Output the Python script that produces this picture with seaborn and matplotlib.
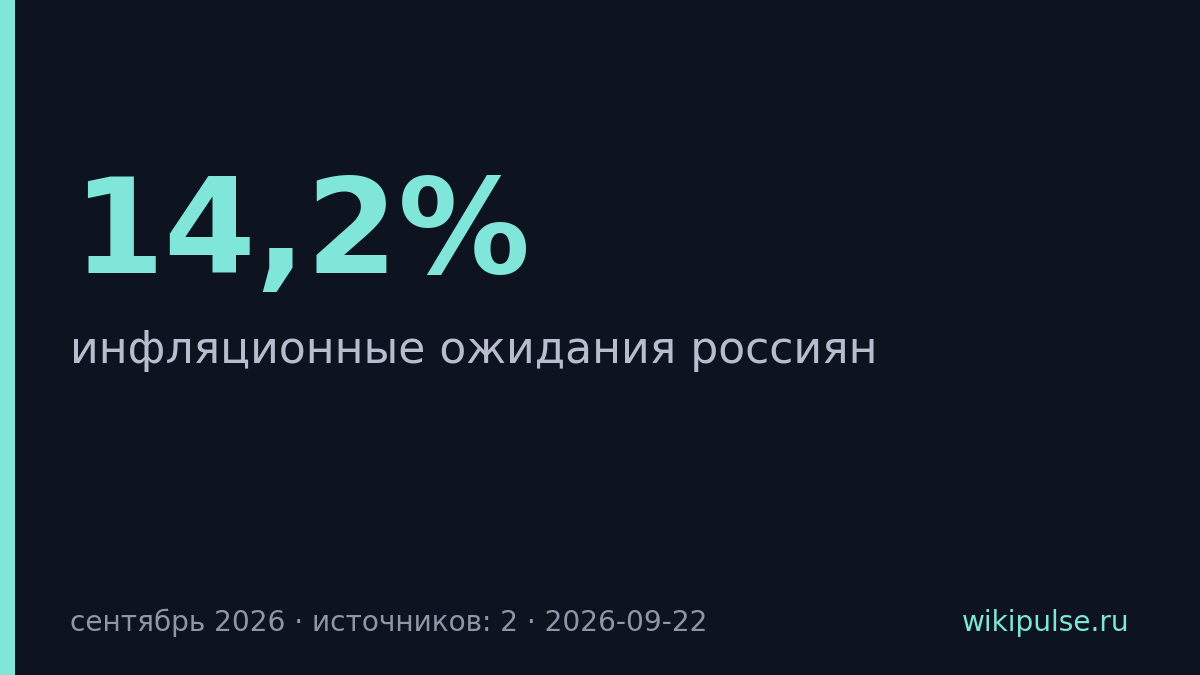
import matplotlib
matplotlib.use("Agg")
import matplotlib.pyplot as plt
import seaborn as sns

# Data / text content
value_label = "14,2%"
subtitle = "инфляционные ожидания россиян"
footer_left = "сентябрь 2026 · источников: 2 · 2026-09-22"
footer_right = "wikipulse.ru"

BG = "#0d141f"
ACCENT = "#80e6d9"
SUB = "#b9bccf"
FOOT = "#9096a8"

sns.set_theme(style="white")
plt.rcParams['font.family'] = ['DejaVu Sans']

W, H = 1200, 675
fig = plt.figure(figsize=(12, 6.75), dpi=100, facecolor=BG)
ax = fig.add_axes([0, 0, 1, 1])
ax.set_facecolor(BG)
ax.set_xlim(0, W)
ax.set_ylim(H, 0)
ax.axis("off")

ax.axvspan(0, 15, color=ACCENT, lw=0)

ax.text(72, 273, value_label, color=ACCENT, fontsize=95, fontweight="bold",
        va="baseline", ha="left")
ax.text(70, 363, subtitle, color=SUB, fontsize=31.8, va="baseline", ha="left")
ax.text(70, 631, footer_left, color=FOOT, fontsize=20.2, va="baseline", ha="left")
ax.text(1129, 631, footer_right, color=ACCENT, fontsize=20.2, va="baseline", ha="right")

fig.savefig("out.png", dpi=100, facecolor=BG)
